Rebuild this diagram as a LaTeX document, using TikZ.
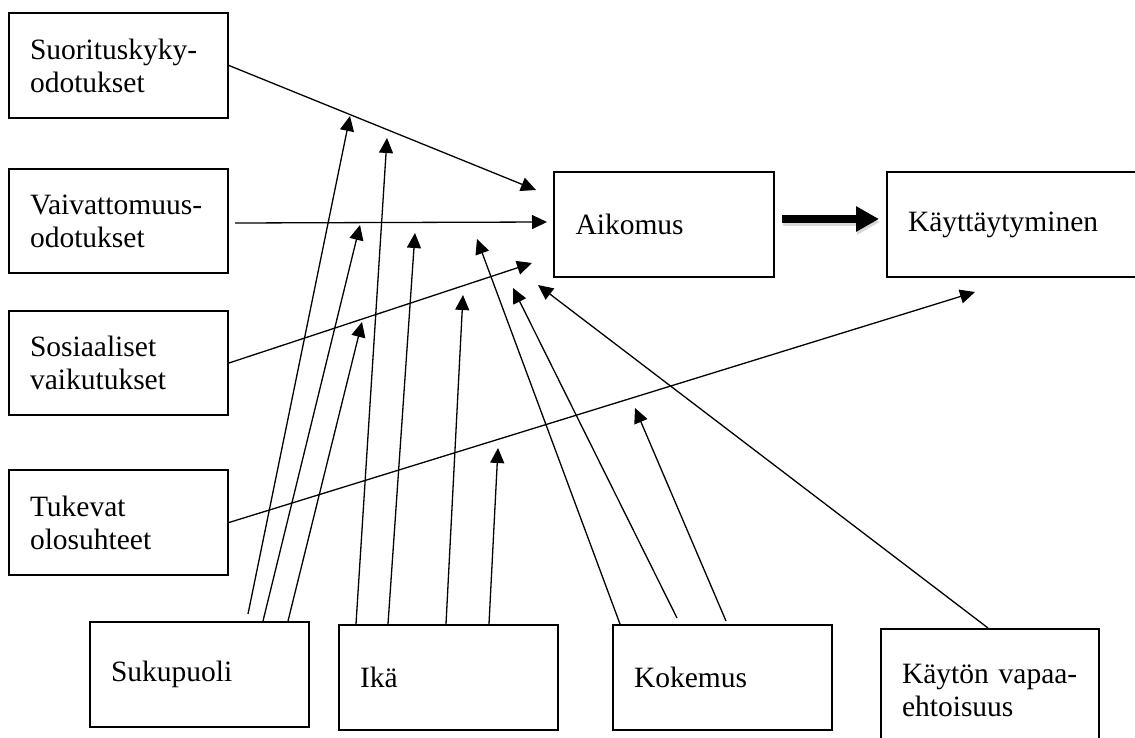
\documentclass[tikz,border=0pt]{standalone}
\usepackage{fontspec}
\setmainfont{Liberation Serif}
\usetikzlibrary{arrows.meta}
\tikzset{
  box/.style={draw, line width=2pt, anchor=north west, minimum width=219pt,
    minimum height=105pt, text width=177pt, inner xsep=21pt, inner ysep=0pt,
    align=left, font=\fontsize{29.5}{33}\selectfont},
  conn/.style={line width=1.3pt, -{Triangle[length=15pt,width=14pt]}},
  thick arrow/.style={line width=8pt, -{Triangle[length=23pt,width=24pt]}},
}
\begin{document}
\begin{tikzpicture}[x=1pt,y=-1pt]
\useasboundingbox (0,0) rectangle (1135,738);
% boxes
\node[box] (suor) at (8,12) {Suorituskyky-\\odotukset};
\node[box, minimum height=104pt] (vaiv) at (8,168) {Vaivattomuus-\\odotukset};
\node[box, minimum height=104pt] (sos) at (8,310) {Sosiaaliset\\vaikutukset};
\node[box] (tuk) at (8,469) {Tukevat\\olosuhteet};
\node[box, minimum width=220pt] (aik) at (553,171) {Aikomus};
\node[box, minimum width=260pt, text width=218pt] (kay) at (886,171) {Käyttäytyminen};
\node[box] (suku) at (89,621) {Sukupuoli};
\node[box] (ika) at (338,624) {Ikä};
\node[box] (kok) at (612,624) {Kokemus};
\node[box, minimum width=218pt, text width=176pt, minimum height=122pt] (vap) at (880,628) {Käytön vapaa-\\ehtoisuus};
% free arrow tips
\coordinate (t1) at (536,190);
\coordinate (t2) at (547,222);
\coordinate (t3) at (532,263);
\coordinate (t4) at (975,292);
\coordinate (tS1) at (350,116);
\coordinate (tS2) at (360,225);
\coordinate (tS3) at (362,322);
\coordinate (tI1) at (387,138);
\coordinate (tI2) at (415,233);
\coordinate (tI3) at (463,295);
\coordinate (tI4) at (498,448);
\coordinate (tK1) at (477,239);
\coordinate (tK2) at (513,288);
\coordinate (tK3) at (635,408);
\coordinate (tV) at (538,285);
% connectors
\draw[conn] (suor.east) -- (t1);
\draw[conn] ([xshift=6pt,yshift=-2pt]vaiv.east) -- (t2);
\draw[conn] (sos.east) -- (t3);
\draw[conn] (tuk.east) -- (t4);
\draw[conn] ([xshift=159pt,yshift=7pt]suku.north west) -- (tS1);
\draw[conn] ([xshift=174pt]suku.north west) -- (tS2);
\draw[conn] ([xshift=199pt]suku.north west) -- (tS3);
\draw[conn] ([xshift=18pt]ika.north west) -- (tI1);
\draw[conn] ([xshift=50pt]ika.north west) -- (tI2);
\draw[conn] ([xshift=108pt]ika.north west) -- (tI3);
\draw[conn] ([xshift=151pt]ika.north west) -- (tI4);
\draw[conn] ([xshift=8pt]kok.north west) -- (tK1);
\draw[conn] ([xshift=65pt,yshift=6pt]kok.north west) -- (tK2);
\draw[conn] ([xshift=114pt,yshift=3pt]kok.north west) -- (tK3);
\draw[conn] ([xshift=108pt]vap.north west) -- (tV);
% thick arrow with soft shadow
\coordinate (ts) at ([xshift=7pt,yshift=5.5pt]aik.east);
\coordinate (te) at ([xshift=-7pt,yshift=5.5pt]kay.west);
\draw[thick arrow, black!30, opacity=0.5] ([xshift=1pt,yshift=-3pt]ts) -- ([xshift=1pt,yshift=-3pt]te);
\draw[thick arrow] (ts) -- (te);
\end{tikzpicture}
\end{document}
